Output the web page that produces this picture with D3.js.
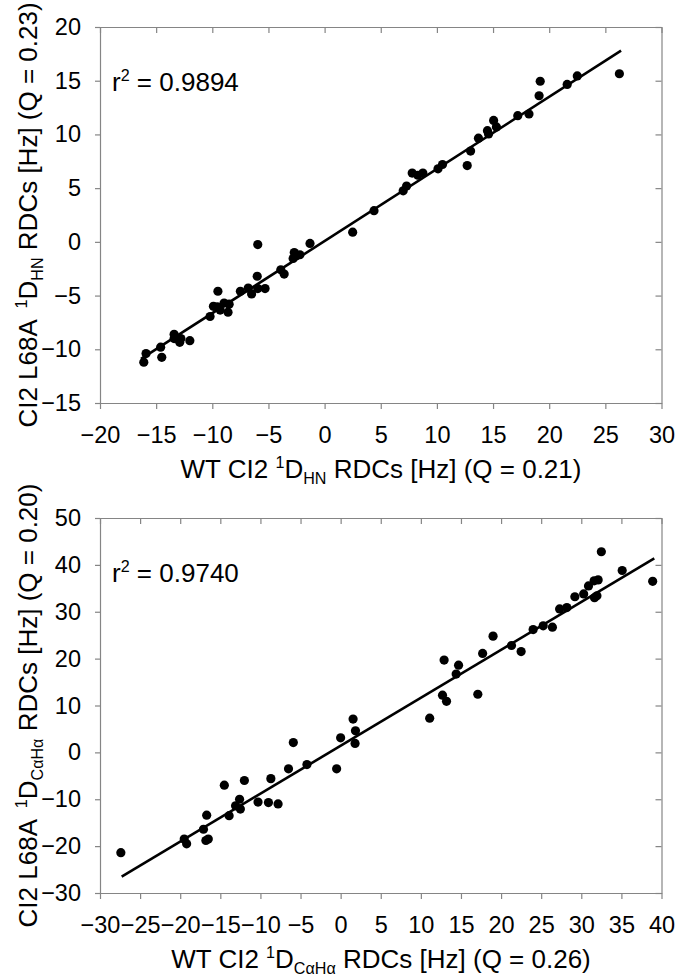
<!DOCTYPE html>
<html>
<head>
<meta charset="utf-8">
<script src="https://cdn.jsdelivr.net/npm/d3@7"></script>
<style>
  body { margin: 0; background: #fff; }
  svg { display: block; font-family: "Liberation Sans", Arial, sans-serif; }
</style>
</head>
<body>
<div class="chart"></div>
<script>
// top panel: 1D(HN) RDCs, WT vs L68A
const hnPoints = [
  [-16.1,-11.2],[-15.9,-10.4],[-14.6,-9.8],[-14.5,-10.75],[-13.4,-8.6],[-13.4,-9.0],
  [-12.9,-9.35],[-12.8,-9.0],[-12.0,-9.2],[-10.2,-6.95],[-9.9,-6.0],[-9.5,-4.6],
  [-9.55,-6.05],[-9.3,-6.35],[-8.95,-5.7],[-8.6,-6.55],[-8.5,-5.8],[-7.5,-4.6],
  [-6.8,-4.3],[-6.5,-4.85],[-6.0,-3.2],[-5.95,-0.25],[-5.95,-4.35],[-5.3,-4.35],
  [-3.9,-2.6],[-3.6,-3.0],[-2.7,-1.0],[-2.8,-1.55],[-2.5,-1.3],[-2.2,-1.2],
  [-1.3,-0.15],[2.5,0.9],[4.4,2.9],[7.0,4.75],[7.3,5.2],[7.8,6.4],[8.3,6.2],
  [8.75,6.4],[10.1,6.8],[10.5,7.2],[12.7,7.1],[13.0,8.45],[13.7,9.65],[14.5,10.35],
  [14.6,10.05],[15.05,11.3],[15.3,10.7],[17.2,11.75],[18.2,11.9],[19.1,13.6],
  [19.2,14.95],[21.6,14.65],[22.5,15.45],[26.25,15.65]
];
const hnFit = [[-16.35,-10.9],[26.4,17.8]];
const hnXTicks = [-20,-15,-10,-5,0,5,10,15,20,25,30];
const hnYTicks = [-15,-10,-5,0,5,10,15,20];

// bottom panel: 1D(CaHa) RDCs
const caPoints = [
  [-27.4,-21.4],[-19.5,-18.5],[-19.2,-19.5],[-17.1,-16.4],[-16.7,-13.4],[-16.8,-18.8],
  [-16.5,-18.5],[-14.5,-7.0],[-13.9,-13.5],[-13.1,-11.4],[-12.6,-10.0],[-12.5,-12.1],
  [-12.0,-6.0],[-10.3,-10.6],[-9.0,-10.7],[-8.7,-5.6],[-7.8,-11.0],[-6.5,-3.5],
  [-5.9,2.1],[-4.2,-2.6],[-0.5,-3.5],[0.0,3.1],[1.55,7.1],[1.85,4.6],[1.8,1.9],
  [11.1,7.3],[12.7,12.2],[12.9,19.7],[13.2,10.9],[14.4,16.7],[14.7,18.6],[17.1,12.4],
  [17.7,21.1],[19.0,24.8],[21.3,22.8],[22.5,21.5],[24.0,26.2],[25.25,27.0],[26.4,26.7],
  [27.3,30.6],[28.2,30.9],[29.2,33.2],[30.3,33.8],[30.9,35.5],[31.6,36.6],[32.1,36.8],
  [31.65,33.0],[31.95,33.4],[32.5,42.8],[35.1,38.8],[38.9,36.5]
];
const caFit = [[-27.3,-26.5],[39.1,41.4]];
const caXTicks = [-30,-25,-20,-15,-10,-5,0,5,10,15,20,25,30,35,40];
const caYTicks = [-30,-20,-10,0,10,20,30,40,50];

const width = 679;
const height = 980;
const gray = "#858585";

const svg = d3.select('.chart')
    .append('svg')
    .attr('width', width)
    .attr('height', height);

// text with super/subscripts
function richText(sel, parts, size) {
    let shift = 0;
    parts.forEach(p => {
        const target = p.sup ? -0.38 * size : p.sub ? 0.24 * size : 0;
        sel.append('tspan')
            .attr('dy', target - shift)
            .attr('dx', p.gap || 0)
            .style('font-size', (p.sup || p.sub) ? (0.62 * size) + 'px' : size + 'px')
            .text(p.t);
        shift = target;
    });
}

function panel(cfg) {
    const x = d3.scaleLinear().domain(cfg.xDomain).range([100, 661.5]);
    const y = d3.scaleLinear().domain(cfg.yDomain).range([cfg.bottom, cfg.top]);
    const g = svg.append('g');

    g.append('g')
        .attr('transform', `translate(0,${cfg.bottom})`)
        .call(d3.axisBottom(x).tickValues(cfg.xTicks).tickSize(6).tickSizeOuter(0).tickPadding(17));
    g.append('g')
        .attr('transform', 'translate(100,0)')
        .call(d3.axisLeft(y).tickValues(cfg.yTicks).tickSize(5).tickSizeOuter(0).tickPadding(14));
    g.append('g')
        .attr('transform', `translate(0,${cfg.top})`)
        .call(d3.axisTop(x).tickValues(cfg.xTicks).tickSize(-6).tickSizeOuter(0).tickFormat(''));
    g.append('g')
        .attr('transform', 'translate(661.5,0)')
        .call(d3.axisRight(y).tickValues(cfg.yTicks).tickSize(-6).tickSizeOuter(0).tickFormat(''));

    g.selectAll('.domain, .tick line').attr('stroke', gray).attr('stroke-width', 1.2);
    g.selectAll('.tick text')
        .attr('fill', '#000')
        .style('font-size', '23.5px')
        .style('font-family', '"Liberation Sans", Arial, sans-serif');

    g.append('line')
        .attr('x1', x(cfg.fit[0][0])).attr('y1', y(cfg.fit[0][1]))
        .attr('x2', x(cfg.fit[1][0])).attr('y2', y(cfg.fit[1][1]))
        .attr('stroke', '#000')
        .attr('stroke-width', 2.6);

    g.selectAll('circle')
        .data(cfg.points)
        .enter()
        .append('circle')
        .attr('cx', d => x(d[0]))
        .attr('cy', d => y(d[1]))
        .attr('r', 4.6)
        .attr('fill', '#000');

    const r2 = g.append('text')
        .attr('x', 112)
        .attr('y', cfg.top + 64);
    richText(r2, [{t: 'r'}, {t: '2', sup: true}, {t: ' = ' + cfg.r2}], 26);

    const xt = g.append('text')
        .attr('x', 381)
        .attr('y', cfg.bottom + 75)
        .attr('text-anchor', 'middle');
    richText(xt, cfg.xTitle, 26);

    const yt = g.append('text')
        .attr('transform', `translate(37,${(cfg.top + cfg.bottom) / 2}) rotate(-90)`)
        .attr('text-anchor', 'middle');
    richText(yt, cfg.yTitle, 26);
}

panel({
    xDomain: [-20, 30], yDomain: [-15, 20], top: 27, bottom: 403,
    xTicks: hnXTicks, yTicks: hnYTicks, points: hnPoints, fit: hnFit, r2: '0.9894',
    xTitle: [{t: 'WT CI2 '}, {t: '1', sup: true}, {t: 'D'}, {t: 'HN', sub: true}, {t: ' RDCs [Hz] (Q = 0.21)'}],
    yTitle: [{t: 'CI2 L68A '}, {t: '1', sup: true, gap: 5}, {t: 'D'}, {t: 'HN', sub: true}, {t: ' RDCs [Hz] (Q = 0.23)'}]
});

panel({
    xDomain: [-30, 40], yDomain: [-30, 50], top: 518, bottom: 893,
    xTicks: caXTicks, yTicks: caYTicks, points: caPoints, fit: caFit, r2: '0.9740',
    xTitle: [{t: 'WT CI2 '}, {t: '1', sup: true}, {t: 'D'}, {t: 'CαHα', sub: true}, {t: ' RDCs [Hz] (Q = 0.26)'}],
    yTitle: [{t: 'CI2 L68A '}, {t: '1', sup: true, gap: 5}, {t: 'D'}, {t: 'CαHα', sub: true}, {t: ' RDCs [Hz] (Q = 0.20)'}]
});
</script>
</body>
</html>
